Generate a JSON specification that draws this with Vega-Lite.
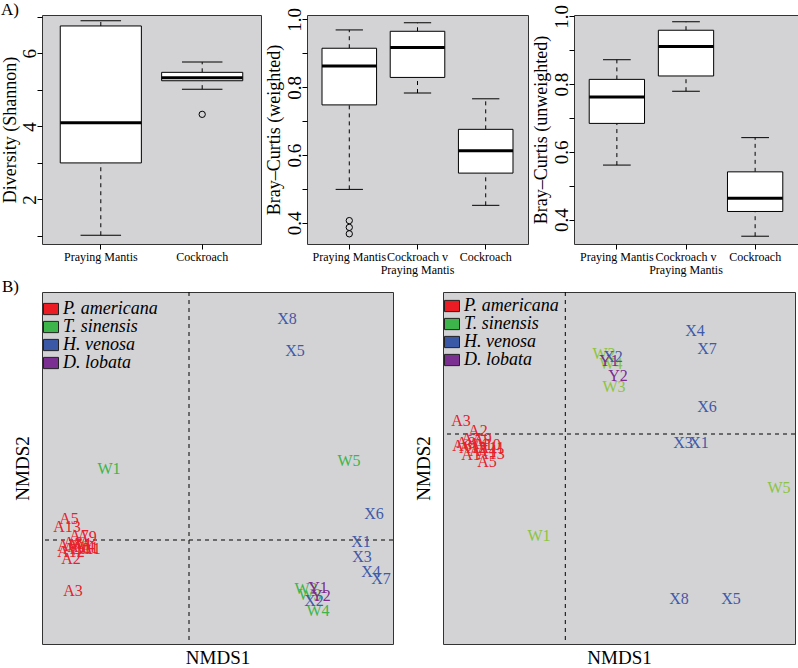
{
  "$schema": "https://vega.github.io/schema/vega-lite/v6.json",
  "padding": 0,
  "background": "white",
  "config": {
    "view": {"fill": "#d3d3d5", "stroke": "#333333", "strokeWidth": 1},
    "axis": {"labelFont": "'Liberation Serif', 'Times New Roman', Times, serif", "titleFont": "'Liberation Serif', 'Times New Roman', Times, serif", "titleFontWeight": "normal", "labelColor": "#000000", "titleColor": "#000000", "tickColor": "#000000", "grid": false, "domain": false},
    "title": {"font": "'Liberation Serif', 'Times New Roman', Times, serif", "fontWeight": "normal", "fontSize": 17, "color": "#000000", "anchor": "start"},
    "legend": {"padding": 0, "title": null, "symbolType": "M-1,-0.75H1V0.75H-1Z", "symbolSize": 225, "symbolStrokeColor": "#222222", "symbolStrokeWidth": 1, "symbolOpacity": 1, "labelFont": "'Liberation Serif', 'Times New Roman', Times, serif", "labelFontStyle": "italic", "labelFontSize": 18, "labelColor": "#000000", "rowPadding": 0, "labelOffset": 3, "labelLimit": 300}
  },
  "datasets": {
    "div": [
      {"group": "Praying Mantis", "lower": 1.02, "q1": 3.0, "median": 4.1, "q3": 6.75, "upper": 6.89},
      {"group": "Cockroach", "lower": 5.02, "q1": 5.25, "median": 5.33, "q3": 5.48, "upper": 5.76}
    ],
    "divOut": [{"group": "Cockroach", "value": 4.33}],
    "bcw": [
      {"group": "Praying Mantis", "lower": 0.499, "q1": 0.748, "median": 0.863, "q3": 0.915, "upper": 0.969},
      {"group": "Cockroach v|Praying Mantis", "lower": 0.783, "q1": 0.829, "median": 0.917, "q3": 0.965, "upper": 0.99},
      {"group": "Cockroach", "lower": 0.452, "q1": 0.547, "median": 0.613, "q3": 0.676, "upper": 0.766}
    ],
    "bcwOut": [
      {"group": "Praying Mantis", "value": 0.407},
      {"group": "Praying Mantis", "value": 0.387},
      {"group": "Praying Mantis", "value": 0.368}
    ],
    "bcu": [
      {"group": "Praying Mantis", "lower": 0.561, "q1": 0.684, "median": 0.762, "q3": 0.814, "upper": 0.872},
      {"group": "Cockroach v|Praying Mantis", "lower": 0.779, "q1": 0.824, "median": 0.911, "q3": 0.959, "upper": 0.984},
      {"group": "Cockroach", "lower": 0.351, "q1": 0.424, "median": 0.463, "q3": 0.541, "upper": 0.642}
    ],
    "ref": [{"ref": 0}],
    "nmdsL": [
      {"label": "A1", "species": "P. americana", "x": -0.49, "y": -0.045},
      {"label": "A2", "species": "P. americana", "x": -0.59, "y": -0.095},
      {"label": "A3", "species": "P. americana", "x": -0.58, "y": -0.255},
      {"label": "A4", "species": "P. americana", "x": -0.54, "y": -0.02},
      {"label": "A5", "species": "P. americana", "x": -0.60, "y": 0.105},
      {"label": "A6", "species": "P. americana", "x": -0.61, "y": -0.03},
      {"label": "A7", "species": "P. americana", "x": -0.55, "y": 0.02},
      {"label": "A8", "species": "P. americana", "x": -0.58, "y": -0.015},
      {"label": "A9", "species": "P. americana", "x": -0.51, "y": 0.015},
      {"label": "A10", "species": "P. americana", "x": -0.56, "y": -0.045},
      {"label": "A11", "species": "P. americana", "x": -0.52, "y": -0.04},
      {"label": "A12", "species": "P. americana", "x": -0.59, "y": -0.06},
      {"label": "A13", "species": "P. americana", "x": -0.61, "y": 0.065},
      {"label": "A14", "species": "P. americana", "x": -0.54, "y": -0.035},
      {"label": "W1", "species": "T. sinensis", "x": -0.40, "y": 0.355},
      {"label": "W2", "species": "T. sinensis", "x": 0.585, "y": -0.245},
      {"label": "W3", "species": "T. sinensis", "x": 0.605, "y": -0.275},
      {"label": "W4", "species": "T. sinensis", "x": 0.645, "y": -0.355},
      {"label": "W5", "species": "T. sinensis", "x": 0.80, "y": 0.395},
      {"label": "X1", "species": "H. venosa", "x": 0.86, "y": -0.01},
      {"label": "X2", "species": "H. venosa", "x": 0.625, "y": -0.305},
      {"label": "X3", "species": "H. venosa", "x": 0.865, "y": -0.085},
      {"label": "X4", "species": "H. venosa", "x": 0.91, "y": -0.16},
      {"label": "X5", "species": "H. venosa", "x": 0.53, "y": 0.945},
      {"label": "X6", "species": "H. venosa", "x": 0.925, "y": 0.13},
      {"label": "X7", "species": "H. venosa", "x": 0.96, "y": -0.195},
      {"label": "X8", "species": "H. venosa", "x": 0.49, "y": 1.105},
      {"label": "Y1", "species": "D. lobata", "x": 0.645, "y": -0.24},
      {"label": "Y2", "species": "D. lobata", "x": 0.66, "y": -0.28}
    ],
    "nmdsR": [
      {"label": "A1", "species": "P. americana", "x": -0.4715, "y": -0.105},
      {"label": "A2", "species": "P. americana", "x": -0.4365, "y": 0.015},
      {"label": "A3", "species": "P. americana", "x": -0.5215, "y": 0.065},
      {"label": "A4", "species": "P. americana", "x": -0.4365, "y": -0.05},
      {"label": "A5", "species": "P. americana", "x": -0.3915, "y": -0.14},
      {"label": "A6", "species": "P. americana", "x": -0.5165, "y": -0.06},
      {"label": "A7", "species": "P. americana", "x": -0.4715, "y": -0.025},
      {"label": "A8", "species": "P. americana", "x": -0.4965, "y": -0.045},
      {"label": "A9", "species": "P. americana", "x": -0.4165, "y": -0.025},
      {"label": "A10", "species": "P. americana", "x": -0.3915, "y": -0.055},
      {"label": "A11", "species": "P. americana", "x": -0.3715, "y": -0.07},
      {"label": "A12", "species": "P. americana", "x": -0.4615, "y": -0.07},
      {"label": "A13", "species": "P. americana", "x": -0.3715, "y": -0.10},
      {"label": "A14", "species": "P. americana", "x": -0.4115, "y": -0.085},
      {"label": "W1", "species": "T. sinensis", "x": -0.1315, "y": -0.51},
      {"label": "W2", "species": "T. sinensis", "x": 0.1935, "y": 0.40},
      {"label": "W3", "species": "T. sinensis", "x": 0.2435, "y": 0.235},
      {"label": "W4", "species": "T. sinensis", "x": 0.2285, "y": 0.35},
      {"label": "W5", "species": "T. sinensis", "x": 1.0685, "y": -0.27},
      {"label": "X1", "species": "H. venosa", "x": 0.6685, "y": -0.045},
      {"label": "X2", "species": "H. venosa", "x": 0.2385, "y": 0.385},
      {"label": "X3", "species": "H. venosa", "x": 0.5885, "y": -0.045},
      {"label": "X4", "species": "H. venosa", "x": 0.6485, "y": 0.515},
      {"label": "X5", "species": "H. venosa", "x": 0.8285, "y": -0.825},
      {"label": "X6", "species": "H. venosa", "x": 0.7085, "y": 0.135},
      {"label": "X7", "species": "H. venosa", "x": 0.7085, "y": 0.425},
      {"label": "X8", "species": "H. venosa", "x": 0.5685, "y": -0.825},
      {"label": "Y1", "species": "D. lobata", "x": 0.2185, "y": 0.365},
      {"label": "Y2", "species": "D. lobata", "x": 0.2635, "y": 0.29}
    ]
  },
  "spacing": 1,
  "resolve": {"scale": {"color": "independent", "fill": "independent"}, "legend": {"color": "independent", "fill": "independent"}},
  "vconcat": [
    {
      "bounds": "flush",
      "spacing": 46,
      "hconcat": [
        {
          "width": 219, "height": 229,
          "title": {"text": "A)", "offset": -17, "baseline": "alphabetic"},
          "data": {"name": "div"},
          "encoding": {
            "x": {"field": "group", "type": "nominal", "scale": {"type": "band", "domain": ["Praying Mantis", "Cockroach"], "paddingInner": 0.2, "paddingOuter": 0.18},
              "axis": {"title": null, "labelAngle": 0, "labelFontSize": 12, "labelPadding": 2, "tickSize": 5, "labelBaseline": "top", "labelLineHeight": 13, "labelExpr": "split(datum.label, '|')"}}
          },
          "layer": [
            {"mark": {"type": "rule", "strokeDash": [4, 4], "color": "#000000"},
             "encoding": {"y": {"field": "q3", "type": "quantitative", "scale": {"domain": [0.78, 7.05], "nice": false, "zero": false},
               "axis": {"title": "Diversity (Shannon)", "titleFontSize": 18, "titlePadding": 1, "values": [1, 2, 3, 4, 5, 6, 7], "labelExpr": "datum.value % 2 == 0 ? datum.label : ''", "labelAngle": -90, "labelAlign": "center", "labelBaseline": "alphabetic", "labelFontSize": 19, "labelPadding": 2, "tickSize": 5, "labelFlush": false, "labelOverlap": false}},
               "y2": {"field": "upper"}}},
            {"mark": {"type": "rule", "strokeDash": [4, 4], "color": "#000000"},
             "encoding": {"y": {"field": "lower", "type": "quantitative", "scale": {"domain": [0.78, 7.05], "nice": false, "zero": false},
               "axis": {"title": "Diversity (Shannon)", "titleFontSize": 18, "titlePadding": 1, "values": [1, 2, 3, 4, 5, 6, 7], "labelExpr": "datum.value % 2 == 0 ? datum.label : ''", "labelAngle": -90, "labelAlign": "center", "labelBaseline": "alphabetic", "labelFontSize": 19, "labelPadding": 2, "tickSize": 5, "labelFlush": false, "labelOverlap": false}},
               "y2": {"field": "q1"}}},
            {"mark": {"type": "tick", "size": 40.5, "thickness": 1, "color": "#000000", "opacity": 1},
             "encoding": {"y": {"field": "upper", "type": "quantitative", "scale": {"domain": [0.78, 7.05], "nice": false, "zero": false},
               "axis": {"title": "Diversity (Shannon)", "titleFontSize": 18, "titlePadding": 1, "values": [1, 2, 3, 4, 5, 6, 7], "labelExpr": "datum.value % 2 == 0 ? datum.label : ''", "labelAngle": -90, "labelAlign": "center", "labelBaseline": "alphabetic", "labelFontSize": 19, "labelPadding": 2, "tickSize": 5, "labelFlush": false, "labelOverlap": false}}}},
            {"mark": {"type": "tick", "size": 40.5, "thickness": 1, "color": "#000000", "opacity": 1},
             "encoding": {"y": {"field": "lower", "type": "quantitative", "scale": {"domain": [0.78, 7.05], "nice": false, "zero": false},
               "axis": {"title": "Diversity (Shannon)", "titleFontSize": 18, "titlePadding": 1, "values": [1, 2, 3, 4, 5, 6, 7], "labelExpr": "datum.value % 2 == 0 ? datum.label : ''", "labelAngle": -90, "labelAlign": "center", "labelBaseline": "alphabetic", "labelFontSize": 19, "labelPadding": 2, "tickSize": 5, "labelFlush": false, "labelOverlap": false}}}},
            {"mark": {"type": "bar", "fill": "#ffffff", "stroke": "#000000", "strokeWidth": 1},
             "encoding": {"y": {"field": "q1", "type": "quantitative", "scale": {"domain": [0.78, 7.05], "nice": false, "zero": false},
               "axis": {"title": "Diversity (Shannon)", "titleFontSize": 18, "titlePadding": 1, "values": [1, 2, 3, 4, 5, 6, 7], "labelExpr": "datum.value % 2 == 0 ? datum.label : ''", "labelAngle": -90, "labelAlign": "center", "labelBaseline": "alphabetic", "labelFontSize": 19, "labelPadding": 2, "tickSize": 5, "labelFlush": false, "labelOverlap": false}},
               "y2": {"field": "q3"}}},
            {"mark": {"type": "tick", "size": 81, "thickness": 3, "color": "#000000", "opacity": 1},
             "encoding": {"y": {"field": "median", "type": "quantitative", "scale": {"domain": [0.78, 7.05], "nice": false, "zero": false},
               "axis": {"title": "Diversity (Shannon)", "titleFontSize": 18, "titlePadding": 1, "values": [1, 2, 3, 4, 5, 6, 7], "labelExpr": "datum.value % 2 == 0 ? datum.label : ''", "labelAngle": -90, "labelAlign": "center", "labelBaseline": "alphabetic", "labelFontSize": 19, "labelPadding": 2, "tickSize": 5, "labelFlush": false, "labelOverlap": false}}}},
            {"data": {"name": "divOut"},
             "mark": {"type": "point", "shape": "circle", "filled": false, "size": 40, "color": "#000000", "strokeWidth": 1, "opacity": 1},
             "encoding": {"y": {"field": "value", "type": "quantitative", "scale": {"domain": [0.78, 7.05], "nice": false, "zero": false},
               "axis": {"title": "Diversity (Shannon)", "titleFontSize": 18, "titlePadding": 1, "values": [1, 2, 3, 4, 5, 6, 7], "labelExpr": "datum.value % 2 == 0 ? datum.label : ''", "labelAngle": -90, "labelAlign": "center", "labelBaseline": "alphabetic", "labelFontSize": 19, "labelPadding": 2, "tickSize": 5, "labelFlush": false, "labelOverlap": false}}}}
          ]
        },
        {
          "width": 221, "height": 229,
          "data": {"name": "bcw"},
          "encoding": {
            "x": {"field": "group", "type": "nominal", "scale": {"type": "band", "domain": ["Praying Mantis", "Cockroach v|Praying Mantis", "Cockroach"], "paddingInner": 0.2, "paddingOuter": 0.22},
              "axis": {"title": null, "labelAngle": 0, "labelFontSize": 12, "labelPadding": 2, "tickSize": 5, "labelBaseline": "top", "labelLineHeight": 13, "labelExpr": "split(datum.label, '|')"}}
          },
          "layer": [
            {"mark": {"type": "rule", "strokeDash": [4, 4], "color": "#000000"},
             "encoding": {"y": {"field": "q3", "type": "quantitative", "scale": {"domain": [0.338, 1.013], "nice": false, "zero": false},
               "axis": {"title": "Bray–Curtis (weighted)", "titleFontSize": 18, "titlePadding": 2, "values": [0.4, 0.5, 0.6, 0.7, 0.8, 0.9, 1.0], "format": ".1f", "labelExpr": "indexof(['0.4','0.6','0.8','1.0'], datum.label) >= 0 ? datum.label : ''", "labelAngle": -90, "labelAlign": "center", "labelBaseline": "alphabetic", "labelFontSize": 19, "labelPadding": 2, "tickSize": 5, "labelFlush": false, "labelOverlap": false}},
               "y2": {"field": "upper"}}},
            {"mark": {"type": "rule", "strokeDash": [4, 4], "color": "#000000"},
             "encoding": {"y": {"field": "lower", "type": "quantitative", "scale": {"domain": [0.338, 1.013], "nice": false, "zero": false},
               "axis": {"title": "Bray–Curtis (weighted)", "titleFontSize": 18, "titlePadding": 2, "values": [0.4, 0.5, 0.6, 0.7, 0.8, 0.9, 1.0], "format": ".1f", "labelExpr": "indexof(['0.4','0.6','0.8','1.0'], datum.label) >= 0 ? datum.label : ''", "labelAngle": -90, "labelAlign": "center", "labelBaseline": "alphabetic", "labelFontSize": 19, "labelPadding": 2, "tickSize": 5, "labelFlush": false, "labelOverlap": false}},
               "y2": {"field": "q1"}}},
            {"mark": {"type": "tick", "size": 27.3, "thickness": 1, "color": "#000000", "opacity": 1},
             "encoding": {"y": {"field": "upper", "type": "quantitative", "scale": {"domain": [0.338, 1.013], "nice": false, "zero": false},
               "axis": {"title": "Bray–Curtis (weighted)", "titleFontSize": 18, "titlePadding": 2, "values": [0.4, 0.5, 0.6, 0.7, 0.8, 0.9, 1.0], "format": ".1f", "labelExpr": "indexof(['0.4','0.6','0.8','1.0'], datum.label) >= 0 ? datum.label : ''", "labelAngle": -90, "labelAlign": "center", "labelBaseline": "alphabetic", "labelFontSize": 19, "labelPadding": 2, "tickSize": 5, "labelFlush": false, "labelOverlap": false}}}},
            {"mark": {"type": "tick", "size": 27.3, "thickness": 1, "color": "#000000", "opacity": 1},
             "encoding": {"y": {"field": "lower", "type": "quantitative", "scale": {"domain": [0.338, 1.013], "nice": false, "zero": false},
               "axis": {"title": "Bray–Curtis (weighted)", "titleFontSize": 18, "titlePadding": 2, "values": [0.4, 0.5, 0.6, 0.7, 0.8, 0.9, 1.0], "format": ".1f", "labelExpr": "indexof(['0.4','0.6','0.8','1.0'], datum.label) >= 0 ? datum.label : ''", "labelAngle": -90, "labelAlign": "center", "labelBaseline": "alphabetic", "labelFontSize": 19, "labelPadding": 2, "tickSize": 5, "labelFlush": false, "labelOverlap": false}}}},
            {"mark": {"type": "bar", "fill": "#ffffff", "stroke": "#000000", "strokeWidth": 1},
             "encoding": {"y": {"field": "q1", "type": "quantitative", "scale": {"domain": [0.338, 1.013], "nice": false, "zero": false},
               "axis": {"title": "Bray–Curtis (weighted)", "titleFontSize": 18, "titlePadding": 2, "values": [0.4, 0.5, 0.6, 0.7, 0.8, 0.9, 1.0], "format": ".1f", "labelExpr": "indexof(['0.4','0.6','0.8','1.0'], datum.label) >= 0 ? datum.label : ''", "labelAngle": -90, "labelAlign": "center", "labelBaseline": "alphabetic", "labelFontSize": 19, "labelPadding": 2, "tickSize": 5, "labelFlush": false, "labelOverlap": false}},
               "y2": {"field": "q3"}}},
            {"mark": {"type": "tick", "size": 54.6, "thickness": 3, "color": "#000000", "opacity": 1},
             "encoding": {"y": {"field": "median", "type": "quantitative", "scale": {"domain": [0.338, 1.013], "nice": false, "zero": false},
               "axis": {"title": "Bray–Curtis (weighted)", "titleFontSize": 18, "titlePadding": 2, "values": [0.4, 0.5, 0.6, 0.7, 0.8, 0.9, 1.0], "format": ".1f", "labelExpr": "indexof(['0.4','0.6','0.8','1.0'], datum.label) >= 0 ? datum.label : ''", "labelAngle": -90, "labelAlign": "center", "labelBaseline": "alphabetic", "labelFontSize": 19, "labelPadding": 2, "tickSize": 5, "labelFlush": false, "labelOverlap": false}}}},
            {"data": {"name": "bcwOut"},
             "mark": {"type": "point", "shape": "circle", "filled": false, "size": 40, "color": "#000000", "strokeWidth": 1, "opacity": 1},
             "encoding": {"y": {"field": "value", "type": "quantitative", "scale": {"domain": [0.338, 1.013], "nice": false, "zero": false},
               "axis": {"title": "Bray–Curtis (weighted)", "titleFontSize": 18, "titlePadding": 2, "values": [0.4, 0.5, 0.6, 0.7, 0.8, 0.9, 1.0], "format": ".1f", "labelExpr": "indexof(['0.4','0.6','0.8','1.0'], datum.label) >= 0 ? datum.label : ''", "labelAngle": -90, "labelAlign": "center", "labelBaseline": "alphabetic", "labelFontSize": 19, "labelPadding": 2, "tickSize": 5, "labelFlush": false, "labelOverlap": false}}}}
          ]
        },
        {
          "width": 224, "height": 229,
          "data": {"name": "bcu"},
          "encoding": {
            "x": {"field": "group", "type": "nominal", "scale": {"type": "band", "domain": ["Praying Mantis", "Cockroach v|Praying Mantis", "Cockroach"], "paddingInner": 0.2, "paddingOuter": 0.22},
              "axis": {"title": null, "labelAngle": 0, "labelFontSize": 12, "labelPadding": 2, "tickSize": 5, "labelBaseline": "top", "labelLineHeight": 13, "labelExpr": "split(datum.label, '|')"}}
          },
          "layer": [
            {"mark": {"type": "rule", "strokeDash": [4, 4], "color": "#000000"},
             "encoding": {"y": {"field": "q3", "type": "quantitative", "scale": {"domain": [0.328, 1.004], "nice": false, "zero": false},
               "axis": {"title": "Bray–Curtis (unweighted)", "titleFontSize": 18, "titlePadding": 2, "values": [0.4, 0.5, 0.6, 0.7, 0.8, 0.9, 1.0], "format": ".1f", "labelExpr": "indexof(['0.4','0.6','0.8','1.0'], datum.label) >= 0 ? datum.label : ''", "labelAngle": -90, "labelAlign": "center", "labelBaseline": "alphabetic", "labelFontSize": 19, "labelPadding": 2, "tickSize": 5, "labelFlush": false, "labelOverlap": false}},
               "y2": {"field": "upper"}}},
            {"mark": {"type": "rule", "strokeDash": [4, 4], "color": "#000000"},
             "encoding": {"y": {"field": "lower", "type": "quantitative", "scale": {"domain": [0.328, 1.004], "nice": false, "zero": false},
               "axis": {"title": "Bray–Curtis (unweighted)", "titleFontSize": 18, "titlePadding": 2, "values": [0.4, 0.5, 0.6, 0.7, 0.8, 0.9, 1.0], "format": ".1f", "labelExpr": "indexof(['0.4','0.6','0.8','1.0'], datum.label) >= 0 ? datum.label : ''", "labelAngle": -90, "labelAlign": "center", "labelBaseline": "alphabetic", "labelFontSize": 19, "labelPadding": 2, "tickSize": 5, "labelFlush": false, "labelOverlap": false}},
               "y2": {"field": "q1"}}},
            {"mark": {"type": "tick", "size": 27.7, "thickness": 1, "color": "#000000", "opacity": 1},
             "encoding": {"y": {"field": "upper", "type": "quantitative", "scale": {"domain": [0.328, 1.004], "nice": false, "zero": false},
               "axis": {"title": "Bray–Curtis (unweighted)", "titleFontSize": 18, "titlePadding": 2, "values": [0.4, 0.5, 0.6, 0.7, 0.8, 0.9, 1.0], "format": ".1f", "labelExpr": "indexof(['0.4','0.6','0.8','1.0'], datum.label) >= 0 ? datum.label : ''", "labelAngle": -90, "labelAlign": "center", "labelBaseline": "alphabetic", "labelFontSize": 19, "labelPadding": 2, "tickSize": 5, "labelFlush": false, "labelOverlap": false}}}},
            {"mark": {"type": "tick", "size": 27.7, "thickness": 1, "color": "#000000", "opacity": 1},
             "encoding": {"y": {"field": "lower", "type": "quantitative", "scale": {"domain": [0.328, 1.004], "nice": false, "zero": false},
               "axis": {"title": "Bray–Curtis (unweighted)", "titleFontSize": 18, "titlePadding": 2, "values": [0.4, 0.5, 0.6, 0.7, 0.8, 0.9, 1.0], "format": ".1f", "labelExpr": "indexof(['0.4','0.6','0.8','1.0'], datum.label) >= 0 ? datum.label : ''", "labelAngle": -90, "labelAlign": "center", "labelBaseline": "alphabetic", "labelFontSize": 19, "labelPadding": 2, "tickSize": 5, "labelFlush": false, "labelOverlap": false}}}},
            {"mark": {"type": "bar", "fill": "#ffffff", "stroke": "#000000", "strokeWidth": 1},
             "encoding": {"y": {"field": "q1", "type": "quantitative", "scale": {"domain": [0.328, 1.004], "nice": false, "zero": false},
               "axis": {"title": "Bray–Curtis (unweighted)", "titleFontSize": 18, "titlePadding": 2, "values": [0.4, 0.5, 0.6, 0.7, 0.8, 0.9, 1.0], "format": ".1f", "labelExpr": "indexof(['0.4','0.6','0.8','1.0'], datum.label) >= 0 ? datum.label : ''", "labelAngle": -90, "labelAlign": "center", "labelBaseline": "alphabetic", "labelFontSize": 19, "labelPadding": 2, "tickSize": 5, "labelFlush": false, "labelOverlap": false}},
               "y2": {"field": "q3"}}},
            {"mark": {"type": "tick", "size": 55.3, "thickness": 3, "color": "#000000", "opacity": 1},
             "encoding": {"y": {"field": "median", "type": "quantitative", "scale": {"domain": [0.328, 1.004], "nice": false, "zero": false},
               "axis": {"title": "Bray–Curtis (unweighted)", "titleFontSize": 18, "titlePadding": 2, "values": [0.4, 0.5, 0.6, 0.7, 0.8, 0.9, 1.0], "format": ".1f", "labelExpr": "indexof(['0.4','0.6','0.8','1.0'], datum.label) >= 0 ? datum.label : ''", "labelAngle": -90, "labelAlign": "center", "labelBaseline": "alphabetic", "labelFontSize": 19, "labelPadding": 2, "tickSize": 5, "labelFlush": false, "labelOverlap": false}}}}
          ]
        }
      ]
    },
    {
      "bounds": "flush",
      "spacing": 50,
      "resolve": {"scale": {"color": "independent", "fill": "independent"}, "legend": {"color": "independent", "fill": "independent"}},
      "hconcat": [
        {
          "width": 351, "height": 352,
          "title": {"text": "B)", "offset": -17, "dx": -11, "baseline": "alphabetic"},
          "layer": [
            {"data": {"name": "ref"}, "mark": {"type": "rule", "strokeDash": [4, 4], "color": "#000000"},
             "encoding": {"x": {"field": "ref", "type": "quantitative", "scale": {"domain": [-0.735, 1.02], "nice": false, "zero": false}, "axis": {"title": "NMDS1", "labels": false, "ticks": false, "titleFontSize": 19, "titlePadding": 4}}}},
            {"data": {"name": "ref"}, "mark": {"type": "rule", "strokeDash": [4, 4], "color": "#000000"},
             "encoding": {"y": {"field": "ref", "type": "quantitative", "scale": {"domain": [-0.52, 1.24], "nice": false, "zero": false}, "axis": {"title": "NMDS2", "labels": false, "ticks": false, "titleFontSize": 19, "titlePadding": 10}}}},
            {"data": {"name": "nmdsL"}, "mark": {"type": "point", "filled": true, "opacity": 0, "size": 10},
             "encoding": {
               "x": {"field": "x", "type": "quantitative", "scale": {"domain": [-0.735, 1.02], "nice": false, "zero": false}, "axis": {"title": "NMDS1", "labels": false, "ticks": false, "titleFontSize": 19, "titlePadding": 4}},
               "y": {"field": "y", "type": "quantitative", "scale": {"domain": [-0.52, 1.24], "nice": false, "zero": false}, "axis": {"title": "NMDS2", "labels": false, "ticks": false, "titleFontSize": 19, "titlePadding": 10}},
               "fill": {"field": "species", "type": "nominal", "scale": {"domain": ["P. americana", "T. sinensis", "H. venosa", "D. lobata"], "range": ["#ec1c24", "#3db54a", "#3b58a6", "#7b2f90"]}, "legend": {"orient": "none", "legendX": 0, "legendY": 8, "symbolOpacity": 1}}
             }},
            {"data": {"name": "nmdsL"}, "mark": {"type": "text", "font": "'Liberation Serif', 'Times New Roman', Times, serif", "fontSize": 16, "align": "center", "baseline": "middle"},
             "encoding": {
               "x": {"field": "x", "type": "quantitative", "scale": {"domain": [-0.735, 1.02], "nice": false, "zero": false}, "axis": {"title": "NMDS1", "labels": false, "ticks": false, "titleFontSize": 19, "titlePadding": 4}},
               "y": {"field": "y", "type": "quantitative", "scale": {"domain": [-0.52, 1.24], "nice": false, "zero": false}, "axis": {"title": "NMDS2", "labels": false, "ticks": false, "titleFontSize": 19, "titlePadding": 10}},
               "text": {"field": "label"},
               "color": {"field": "species", "type": "nominal", "scale": {"domain": ["P. americana", "T. sinensis", "H. venosa", "D. lobata"], "range": ["#e8202a", "#3db54a", "#3f5aa8", "#7d2a8e"]}, "legend": null}
             }}
          ]
        },
        {
          "width": 352, "height": 352,
          "layer": [
            {"data": {"name": "ref"}, "mark": {"type": "rule", "strokeDash": [4, 4], "color": "#000000"},
             "encoding": {"x": {"field": "ref", "type": "quantitative", "scale": {"domain": [-0.6115, 1.1485], "nice": false, "zero": false}, "axis": {"title": "NMDS1", "labels": false, "ticks": false, "titleFontSize": 19, "titlePadding": 4}}}},
            {"data": {"name": "ref"}, "mark": {"type": "rule", "strokeDash": [4, 4], "color": "#000000"},
             "encoding": {"y": {"field": "ref", "type": "quantitative", "scale": {"domain": [-1.05, 0.71], "nice": false, "zero": false}, "axis": {"title": "NMDS2", "labels": false, "ticks": false, "titleFontSize": 19, "titlePadding": 10}}}},
            {"data": {"name": "nmdsR"}, "mark": {"type": "point", "filled": true, "opacity": 0, "size": 10},
             "encoding": {
               "x": {"field": "x", "type": "quantitative", "scale": {"domain": [-0.6115, 1.1485], "nice": false, "zero": false}, "axis": {"title": "NMDS1", "labels": false, "ticks": false, "titleFontSize": 19, "titlePadding": 4}},
               "y": {"field": "y", "type": "quantitative", "scale": {"domain": [-1.05, 0.71], "nice": false, "zero": false}, "axis": {"title": "NMDS2", "labels": false, "ticks": false, "titleFontSize": 19, "titlePadding": 10}},
               "fill": {"field": "species", "type": "nominal", "scale": {"domain": ["P. americana", "T. sinensis", "H. venosa", "D. lobata"], "range": ["#ec1c24", "#3db54a", "#3b58a6", "#7b2f90"]}, "legend": {"orient": "none", "legendX": 0, "legendY": 5, "symbolOpacity": 1}}
             }},
            {"data": {"name": "nmdsR"}, "mark": {"type": "text", "font": "'Liberation Serif', 'Times New Roman', Times, serif", "fontSize": 16, "align": "center", "baseline": "middle"},
             "encoding": {
               "x": {"field": "x", "type": "quantitative", "scale": {"domain": [-0.6115, 1.1485], "nice": false, "zero": false}, "axis": {"title": "NMDS1", "labels": false, "ticks": false, "titleFontSize": 19, "titlePadding": 4}},
               "y": {"field": "y", "type": "quantitative", "scale": {"domain": [-1.05, 0.71], "nice": false, "zero": false}, "axis": {"title": "NMDS2", "labels": false, "ticks": false, "titleFontSize": 19, "titlePadding": 10}},
               "text": {"field": "label"},
               "color": {"field": "species", "type": "nominal", "scale": {"domain": ["P. americana", "T. sinensis", "H. venosa", "D. lobata"], "range": ["#e8202a", "#8cc43f", "#3f5aa8", "#7d2a8e"]}, "legend": null}
             }}
          ]
        }
      ]
    }
  ]
}
